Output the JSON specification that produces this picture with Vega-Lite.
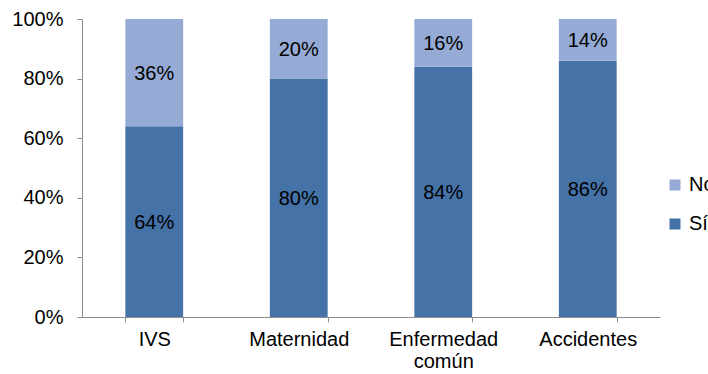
{
  "$schema": "https://vega.github.io/schema/vega-lite/v6.json",
  "width": 578,
  "height": 298,
  "autosize": {"type": "none"},
  "padding": {"left": 82, "top": 19, "right": 48, "bottom": 57},
  "background": "white",
  "config": {
    "view": {"stroke": null},
    "font": "Liberation Sans",
    "axis": {"grid": false, "domainColor": "#8c8c8c", "tickColor": "#8c8c8c", "labelColor": "black", "labelFontSize": 20, "labelFont": "Liberation Sans", "title": null}
  },
  "data": {
    "values": [
      {"cat": "IVS", "resp": "Sí", "v": 0.64},
      {"cat": "IVS", "resp": "No", "v": 0.36},
      {"cat": "Maternidad", "resp": "Sí", "v": 0.80},
      {"cat": "Maternidad", "resp": "No", "v": 0.20},
      {"cat": "Enfermedad común", "resp": "Sí", "v": 0.84},
      {"cat": "Enfermedad común", "resp": "No", "v": 0.16},
      {"cat": "Accidentes", "resp": "Sí", "v": 0.86},
      {"cat": "Accidentes", "resp": "No", "v": 0.14}
    ]
  },
  "encoding": {
    "x": {
      "field": "cat", "type": "nominal",
      "sort": ["IVS", "Maternidad", "Enfermedad común", "Accidentes"],
      "scale": {"paddingInner": 0.6, "paddingOuter": 0.3},
      "axis": {"labelAngle": 0, "tickBand": "extent", "tickSize": 5, "labelPadding": 7, "labelLineHeight": 22,
        "labelExpr": "datum.label == 'Enfermedad común' ? ['Enfermedad', 'común'] : datum.label"}
    },
    "order": {"field": "resp", "sort": "descending"}
  },
  "layer": [
    {
      "mark": {"type": "bar"},
      "encoding": {
        "y": {"field": "v", "type": "quantitative", "stack": "normalize",
          "axis": {"format": ".0%", "values": [0, 0.2, 0.4, 0.6, 0.8, 1], "tickSize": 5, "labelPadding": 14}},
        "color": {
          "field": "resp", "type": "nominal",
          "scale": {"domain": ["No", "Sí"], "range": ["#95ABD5", "#4572A7"]},
          "legend": {"title": null, "orient": "none", "legendX": 583, "legendY": 156, "padding": 0, "symbolType": "square", "symbolSize": 121, "symbolStrokeWidth": 0, "labelFontSize": 20, "labelOffset": 4, "rowPadding": 19, "labelColor": "black", "labelLimit": 200}
        }
      }
    },
    {
      "mark": {"type": "text", "fontSize": 20, "color": "black", "dy": 1},
      "encoding": {
        "y": {"field": "v", "type": "quantitative", "stack": "normalize", "bandPosition": 0.5},
        "text": {"field": "v", "type": "quantitative", "format": ".0%"},
        "detail": {"field": "resp"}
      }
    }
  ]
}
